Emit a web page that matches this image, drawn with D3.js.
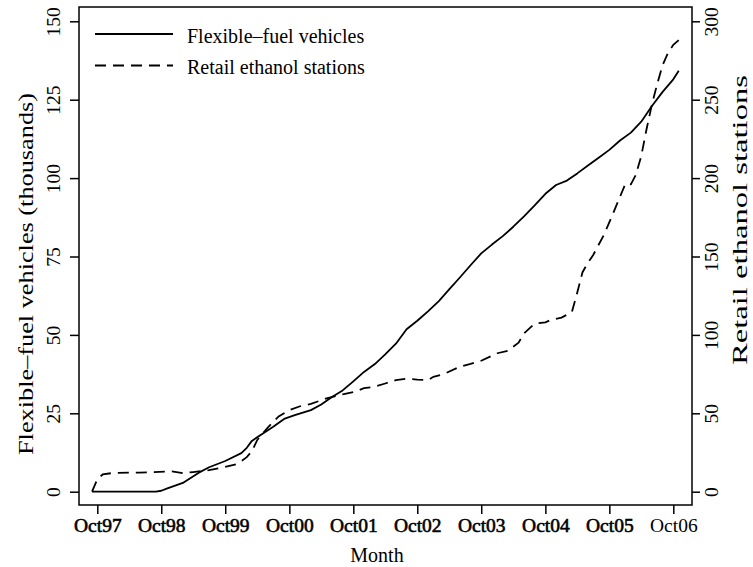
<!DOCTYPE html>
<html>
<head>
<meta charset="utf-8">
<script src="https://cdn.jsdelivr.net/npm/d3@7"></script>
<style>
  body { margin: 0; background: #fff; }
  svg { display: block; font-family: "Liberation Serif", "Times New Roman", serif; }
</style>
</head>
<body>
<svg id="chart"></svg>
<script>
// monthly data, Sep 1997 .. Nov 2006
const ffvMonths = ["1997-09","1998-09","1998-10","1998-11","1999-02","1999-05","1999-07","1999-10","2000-01","2000-02","2000-03","2000-05","2000-07","2000-09","2000-11","2001-02","2001-04","2001-06","2001-08","2001-10","2001-12","2002-02","2002-04","2002-06","2002-08","2002-10","2002-12","2003-02","2003-04","2003-06","2003-08","2003-10","2003-12","2004-02","2004-04","2004-06","2004-08","2004-10","2004-12","2005-02","2005-04","2005-06","2005-08","2005-10","2005-12","2006-02","2006-04","2006-06","2006-08","2006-10","2006-11"];
const ffvValues = [0,0,0.3,1,2.8,6,7.8,9.8,12.3,14,16.2,18.5,20.7,23.2,24.4,26,27.8,30.2,32.3,35.2,38.2,40.7,43.8,47.2,51.8,54.5,57.5,60.8,64.5,68.3,72.2,76,78.8,81.5,84.5,87.8,91.3,95,97.8,99.2,101.5,104,106.5,109,112,114.5,118,123,127.5,131.5,134.2];

const stationMonths = ["1997-09","1997-10","1997-11","1998-01","1998-06","1998-12","1999-02","1999-04","1999-07","1999-10","1999-12","2000-01","2000-02","2000-03","2000-04","2000-06","2000-08","2000-10","2000-12","2001-02","2001-05","2001-08","2001-10","2001-12","2002-02","2002-04","2002-06","2002-08","2002-10","2002-12","2003-01","2003-03","2003-06","2003-08","2003-10","2004-01","2004-03","2004-05","2004-06","2004-08","2004-10","2004-11","2005-01","2005-03","2005-04","2005-05","2005-06","2005-07","2005-09","2005-11","2006-01","2006-02","2006-03","2006-04","2006-05","2006-06","2006-07","2006-08","2006-09","2006-10","2006-11"];
const stationValues = [0,8,11,12,12.2,13,11.8,12.5,13.8,15.8,17.5,19.5,22,25.8,33,41,48,52,54.5,56,59.5,62,63.5,66,67,69,71.2,72,71.5,71.2,73.3,75,79.7,81.5,83.5,88.3,89.8,95,101,107.2,108,109.5,111,114.5,127,140,146,151,164,180,196.5,196,202,214,231,247,260,272,280,285,288];

const xTickMonths = ["1997-10","1998-10","1999-10","2000-10","2001-10","2002-10","2003-10","2004-10","2005-10","2006-10"];
const xTickLabels = ["Oct97","Oct98","Oct99","Oct00","Oct01","Oct02","Oct03","Oct04","Oct05","Oct06"];
const leftTicks = [0, 25, 50, 75, 100, 125, 150];
const rightTicks = [0, 50, 100, 150, 200, 250, 300];
const legendLabels = ["Flexible\u2013fuel vehicles", "Retail ethanol stations"];

const svgWidth = 753, svgHeight = 567;
const box = {left: 79, right: 692, top: 7, bottom: 505};
const serif = '"Liberation Serif", "Times New Roman", serif';

const parseMonth = d3.timeParse("%Y-%m");

const chart = d3.select("#chart")
    .attr("width", svgWidth)
    .attr("height", svgHeight);

// scales
const xScale = d3.scaleTime()
    .domain([parseMonth("1997-10"), parseMonth("2006-10")])
    .range([97.3, 673.3]);
const yLeft = d3.scaleLinear().domain([0, 150]).range([491.7, 21.3]);
const yRight = d3.scaleLinear().domain([0, 300]).range([491.7, 21.3]);

// box
chart.append("rect")
    .attr("x", box.left).attr("y", box.top)
    .attr("width", box.right - box.left).attr("height", box.bottom - box.top)
    .attr("fill", "none").attr("stroke", "#000").attr("stroke-width", 1.5);

// x axis
const xAxis = d3.axisBottom(xScale)
    .tickValues(xTickMonths.map(parseMonth))
    .tickSize(9)
    .tickFormat((d, i) => xTickLabels[i]);
const gx = chart.append("g")
    .attr("transform", `translate(0,${box.bottom})`)
    .call(xAxis)
    .attr("font-family", serif);
gx.select(".domain").remove();
gx.selectAll("line").attr("stroke-width", 1.5);
gx.selectAll("text")
    .attr("y", 27).attr("dy", 0)
    .style("font-size", "19.5px")
    .attr("fill", "#000")
    .attr("stroke", (d, i) => i < 9 ? "#000" : "none")
    .attr("stroke-width", 0.6);

// left axis
const gl = chart.append("g")
    .attr("transform", `translate(${box.left},0)`)
    .call(d3.axisLeft(yLeft).tickValues(leftTicks).tickSize(9))
    .attr("font-family", serif);
gl.select(".domain").remove();
gl.selectAll("line").attr("stroke-width", 1.5);
gl.selectAll("text")
    .attr("dy", null)
    .attr("transform", "rotate(-90)")
    .attr("text-anchor", "middle")
    .attr("x", 0)
    .attr("y", -19)
    .attr("fill", "#000")
    .style("font-size", "19.5px");

// right axis
const gr = chart.append("g")
    .attr("transform", `translate(${box.right},0)`)
    .call(d3.axisRight(yRight).tickValues(rightTicks).tickSize(8))
    .attr("font-family", serif);
gr.select(".domain").remove();
gr.selectAll("line").attr("stroke-width", 1.5);
gr.selectAll("text")
    .attr("dy", null)
    .attr("transform", "rotate(-90)")
    .attr("text-anchor", "middle")
    .attr("x", 0)
    .attr("y", 26)
    .attr("fill", "#000")
    .style("font-size", "19.5px");

// axis titles
chart.append("text")
    .attr("x", 377).attr("y", 562)
    .attr("text-anchor", "middle")
    .style("font-size", "20px")
    .text("Month");

chart.append("text")
    .attr("transform", "translate(33,274) rotate(-90)")
    .attr("text-anchor", "middle")
    .style("font-size", "21px")
    .attr("textLength", 362)
    .attr("lengthAdjust", "spacingAndGlyphs")
    .text("Flexible\u2013fuel vehicles (thousands)");

chart.append("text")
    .attr("transform", "translate(747,220) rotate(-90)")
    .attr("text-anchor", "middle")
    .style("font-size", "21px")
    .attr("textLength", 290)
    .attr("lengthAdjust", "spacingAndGlyphs")
    .text("Retail ethanol stations");

// lines
const ffvLine = d3.line()
    .x((d, i) => xScale(parseMonth(ffvMonths[i])))
    .y(d => yLeft(d));
const stationLine = d3.line()
    .x((d, i) => xScale(parseMonth(stationMonths[i])))
    .y(d => yRight(d));

chart.append("path")
    .datum(ffvValues)
    .attr("d", ffvLine)
    .attr("fill", "none").attr("stroke", "#000").attr("stroke-width", 1.8)
    .attr("stroke-linejoin", "round");

chart.append("path")
    .datum(stationValues)
    .attr("d", stationLine)
    .attr("fill", "none").attr("stroke", "#000").attr("stroke-width", 1.8)
    .attr("stroke-dasharray", "11,7");

// legend
const legend = chart.append("g");
legendLabels.forEach(function(label, i) {
    const ly = 34 + i * 31.5;
    legend.append("line")
        .attr("x1", 95).attr("x2", 173)
        .attr("y1", ly).attr("y2", ly)
        .attr("stroke", "#000").attr("stroke-width", 1.8)
        .attr("stroke-dasharray", i == 1 ? "11,7" : null);
    legend.append("text")
        .attr("x", 187).attr("y", ly + 8.5)
        .style("font-size", "20px")
        .text(label);
});
</script>
</body>
</html>
